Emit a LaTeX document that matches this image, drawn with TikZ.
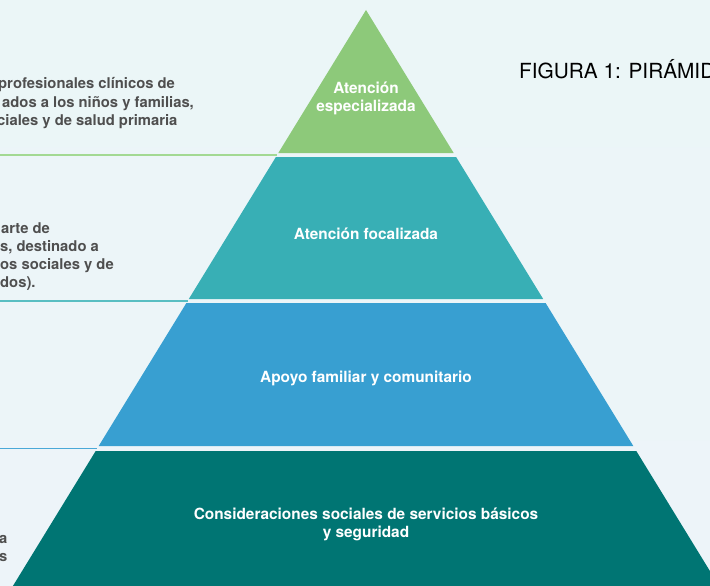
\documentclass[tikz,border=0pt]{standalone}
\usepackage{fontspec}
\setmainfont{TeX Gyre Heros}
\definecolor{bgtop}{HTML}{EBF6F7}
\definecolor{bgbot}{HTML}{EDF4F9}
\definecolor{cgreen}{HTML}{8DC97A}
\definecolor{cteal}{HTML}{38AFB5}
\definecolor{cblue}{HTML}{389FD1}
\definecolor{cdark}{HTML}{007573}
\definecolor{lgreen}{HTML}{A3D993}
\definecolor{lteal}{HTML}{59BEC2}
\definecolor{lblue}{HTML}{4AA8D8}
\definecolor{side}{HTML}{4F4F4F}
\tikzset{
  band/.style={draw=none},
  sep/.style={line width=1.6pt},
  inlabel/.style={text=white,font=\bfseries\fontsize{15.4}{18}\selectfont,align=center,inner sep=0pt},
  sidetext/.style={text=side,font=\bfseries\fontsize{14.8}{18}\selectfont,anchor=west,inner sep=0pt,text height=10pt,text depth=3pt},
  titletext/.style={text=black,font=\fontsize{20.8}{24}\selectfont,anchor=base west,inner sep=0pt}
}
\begin{document}
\begin{tikzpicture}[x=1pt,y=-1pt]
\useasboundingbox (0,0) rectangle (710,586);
\shade[top color=bgtop,bottom color=bgbot] (0,0) rectangle (710,586);
% pyramid corner coordinates
\coordinate (apex) at (366,10);
\coordinate (g1l) at (278.3,153); \coordinate (g1r) at (453.7,153);
\coordinate (t0l) at (275.9,157); \coordinate (t0r) at (456.1,157);
\coordinate (t1l) at (188.8,299); \coordinate (t1r) at (543.2,299);
\coordinate (b0l) at (186.4,303); \coordinate (b0r) at (545.6,303);
\coordinate (b1l) at (98.7,446);  \coordinate (b1r) at (633.3,446);
\coordinate (d0l) at (95.7,451);  \coordinate (d0r) at (636.3,451);
\coordinate (d1l) at (12.9,586);  \coordinate (d1r) at (719.1,586);
% bands
\begin{scope}
\clip (0,0) rectangle (710,586);
\fill[cgreen,band] (apex) -- (g1r) -- (g1l) -- cycle;
\fill[cteal,band] (t0l) -- (t0r) -- (t1r) -- (t1l) -- cycle;
\fill[cblue,band] (b0l) -- (b0r) -- (b1r) -- (b1l) -- cycle;
\fill[cdark,band] (d0l) -- (d0r) -- (d1r) -- (d1l) -- cycle;
\end{scope}
% separator lines
\coordinate (s1) at (0,154.8); \coordinate (s1e) at (277.3,154.8);
\coordinate (s2) at (0,301);   \coordinate (s2e) at (187.6,301);
\coordinate (s3) at (0,448.5); \coordinate (s3e) at (97.2,448.5);
\draw[sep,lgreen] (s1) -- (s1e);
\draw[sep,lteal] (s2) -- (s2e);
\draw[sep,lblue] (s3) -- (s3e);
% labels inside pyramid
\node[inlabel] (lab1) at (366,98) {Atención\\especializada};
\node[inlabel] (lab2) at (366,234) {Atención focalizada};
\node[inlabel] (lab3) at (366,378) {Apoyo familiar y comunitario};
\node[inlabel] (lab4) at (366,524) {Consideraciones sociales de servicios básicos\\y seguridad};
% side texts (cut at the left edge)
\node[sidetext] (a1) at (-2,85) {profesionales clínicos de};
\node[sidetext] (a2) at (2,103.5) {ados a los niños y familias,};
\node[sidetext] (a3) at (-3,122) {ciales y de salud primaria};
\node[sidetext] (b1) at (1,230) {arte de};
\node[sidetext] (b2) at (0,248) {s, destinado a};
\node[sidetext] (b3) at (0,266) {os sociales y de};
\node[sidetext] (b4) at (0,284) {dos).};
\node[sidetext] (c1) at (-1,540) {a};
\node[sidetext] (c2) at (-1,558) {s};
% title
\node[titletext] (title) at (519,78) {FIGURA 1: PIRÁMIDE};
\end{tikzpicture}
\end{document}
